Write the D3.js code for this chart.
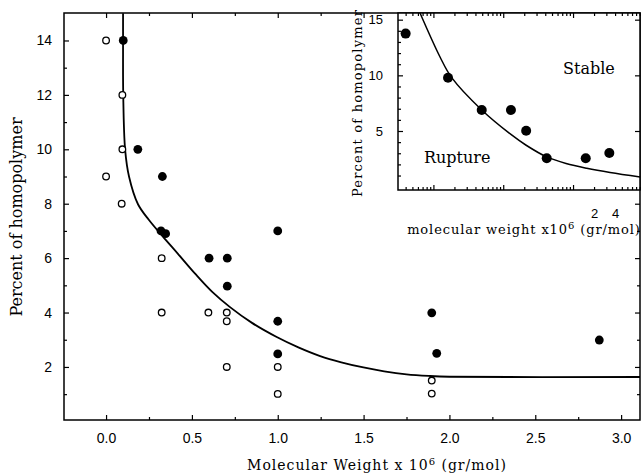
<!DOCTYPE html>
<html>
<head>
<meta charset="utf-8">
<script src="https://cdn.jsdelivr.net/npm/d3@7"></script>
<style>
body { margin: 0; background: #fff; }
svg { display: block; font-family: "DejaVu Serif", serif; }
.axis text { font-size: 14px; fill: #000; }
.axis line { stroke: #000; stroke-width: 1.2; }
.inset .axis text { font-size: 13px; }
</style>
</head>
<body>
<svg width="641" height="473"></svg>
<script>
// main plot, x = molecular weight (x10^6 gr/mol), y = percent of homopolymer
var stableMW  = [0.10, 0.185, 0.328, 0.32, 0.347, 1.0, 0.60, 0.706, 0.706, 1.0, 1.0, 1.897, 1.926, 2.873];
var stablePct = [14.0, 10.0, 9.0, 7.0, 6.9, 7.0, 6.0, 6.0, 4.97, 3.68, 2.48, 3.99, 2.50, 2.99];

var ruptureMW  = [0.0, 0.095, 0.095, 0.0, 0.091, 0.324, 0.324, 0.596, 0.703, 0.703, 0.703, 1.0, 1.0, 1.897, 1.897];
var rupturePct = [14.0, 12.0, 10.0, 9.0, 8.0, 6.0, 4.0, 4.0, 4.0, 3.68, 2.0, 2.0, 1.01, 1.5, 1.02];

// boundary line as drawn in the figure
var boundaryMW  = [0.099, 0.099, 0.100, 0.111, 0.134, 0.186, 0.25, 0.33, 0.42, 0.52, 0.62, 0.722, 0.85, 0.994, 1.12, 1.247, 1.37, 1.499, 1.62, 1.75, 1.88, 2.0, 3.11];
var boundaryPct = [15.0, 14.0, 12.0, 9.99, 8.99, 7.98, 7.4, 6.8, 6.15, 5.42, 4.75, 4.2, 3.62, 3.1, 2.72, 2.4, 2.17, 1.98, 1.84, 1.73, 1.67, 1.64, 1.63];

var xMajor = [0, 0.5, 1.0, 1.5, 2.0, 2.5, 3.0];
var xMinor = [0.25, 0.75, 1.25, 1.75, 2.25, 2.75];
var yMajor = [2, 4, 6, 8, 10, 12, 14];
var yMinor = [1, 3, 5, 7, 9, 11, 13];

// inset (log x)
var insetMW  = [0.0040, 0.0162, 0.0492, 0.129, 0.213, 0.42, 1.52, 3.31];
var insetPct = [13.75, 9.79, 6.89, 6.89, 5.03, 2.55, 2.55, 3.03];
var insetCurveMW  = [0.00643, 0.01244, 0.01829, 0.0492, 0.129, 0.213, 0.42, 0.794, 1.572, 3.39, 9.12];
var insetCurvePct = [15.6, 11.65, 9.79, 6.89, 4.69, 3.72, 2.67, 2.08, 1.65, 1.27, 0.87];
var insetYMajor = [5, 10, 15];
var insetXLabels = [2, 4];

var svg = d3.select("svg");

var x = d3.scaleLinear().domain([-0.245, 3.11]).range([64, 640]);
var y = d3.scaleLinear().domain([0.05, 15.01]).range([420, 13]);

var xi = d3.scaleLog().domain([0.00311, 9.1]).range([398, 640]);
var yi = d3.scaleLinear().domain([-0.3, 15.6]).range([190, 13]);

function noDomain(g) { g.select(".domain").remove(); }

// main frame
svg.append("rect")
    .attr("x", x.range()[0])
    .attr("y", y.range()[1])
    .attr("width", x.range()[1] - x.range()[0])
    .attr("height", y.range()[0] - y.range()[1])
    .attr("fill", "none")
    .attr("stroke", "#000")
    .attr("stroke-width", 1.5);

svg.append("g").attr("class", "axis")
    .attr("transform", "translate(" + x.range()[0] + ",0)")
    .call(d3.axisLeft(y).tickValues(yMajor).tickSize(-5).tickPadding(12).tickFormat(d3.format("d")))
    .call(noDomain);
svg.append("g").attr("class", "axis")
    .attr("transform", "translate(" + x.range()[0] + ",0)")
    .call(d3.axisLeft(y).tickValues(yMinor).tickSize(-3).tickFormat(""))
    .call(noDomain);

svg.append("g").attr("class", "axis")
    .attr("transform", "translate(" + x.range()[1] + ",0)")
    .call(d3.axisRight(y).tickValues([2, 4, 6, 8]).tickSize(-5).tickFormat(""))
    .call(noDomain);
svg.append("g").attr("class", "axis")
    .attr("transform", "translate(" + x.range()[1] + ",0)")
    .call(d3.axisRight(y).tickValues([1, 3, 5, 7]).tickSize(-3).tickFormat(""))
    .call(noDomain);

svg.append("g").attr("class", "axis")
    .attr("transform", "translate(0," + y.range()[0] + ")")
    .call(d3.axisBottom(x).tickValues(xMajor).tickSize(-5).tickPadding(13).tickFormat(d3.format(".1f")))
    .call(noDomain);
svg.append("g").attr("class", "axis")
    .attr("transform", "translate(0," + y.range()[0] + ")")
    .call(d3.axisBottom(x).tickValues(xMinor).tickSize(-3).tickFormat(""))
    .call(noDomain);

svg.append("g").attr("class", "axis")
    .attr("transform", "translate(0," + y.range()[1] + ")")
    .call(d3.axisTop(x).tickValues(xMajor.filter(d => d < 1.7)).tickSize(-5).tickFormat(""))
    .call(noDomain);
svg.append("g").attr("class", "axis")
    .attr("transform", "translate(0," + y.range()[1] + ")")
    .call(d3.axisTop(x).tickValues(xMinor.filter(d => d < 1.7)).tickSize(-3).tickFormat(""))
    .call(noDomain);

var line = d3.line()
    .x(d => x(d[0]))
    .y(d => y(d[1]))
    .curve(d3.curveCatmullRom.alpha(0.5));

svg.append("path")
    .datum(d3.zip(boundaryMW, boundaryPct))
    .attr("d", line)
    .attr("fill", "none")
    .attr("stroke", "#000")
    .attr("stroke-width", 1.8);

svg.append("g").selectAll("circle")
    .data(d3.zip(ruptureMW, rupturePct))
    .join("circle")
    .attr("cx", d => x(d[0]))
    .attr("cy", d => y(d[1]))
    .attr("r", 3.3)
    .attr("fill", "#fff")
    .attr("stroke", "#000")
    .attr("stroke-width", 1.3);

svg.append("g").selectAll("circle")
    .data(d3.zip(stableMW, stablePct))
    .join("circle")
    .attr("cx", d => x(d[0]))
    .attr("cy", d => y(d[1]))
    .attr("r", 4.4)
    .attr("fill", "#000");

var xLabel = svg.append("text")
    .attr("x", 377)
    .attr("y", 470)
    .attr("text-anchor", "middle")
    .style("font-size", "14px")
    .style("letter-spacing", "1px")
    .text("Molecular Weight x 10");
xLabel.append("tspan").attr("dy", -5).style("font-size", "10px").text("6");
xLabel.append("tspan").attr("dy", 5).text(" (gr/mol)");

svg.append("text")
    .attr("transform", "translate(22,217) rotate(-90)")
    .attr("text-anchor", "middle")
    .style("font-size", "16px")
    .text("Percent of homopolymer");

// inset
var inset = svg.append("g").attr("class", "inset");

inset.append("rect")
    .attr("x", xi.range()[0])
    .attr("y", yi.range()[1])
    .attr("width", xi.range()[1] - xi.range()[0])
    .attr("height", yi.range()[0] - yi.range()[1])
    .attr("fill", "#fff")
    .attr("stroke", "#000")
    .attr("stroke-width", 1.5);

var logTicks = xi.ticks();
var decades = logTicks.filter(d => Math.abs(Math.log10(d) - Math.round(Math.log10(d))) < 1e-9);
var logMinor = logTicks.filter(d => decades.indexOf(d) < 0);

inset.append("g").attr("class", "axis")
    .attr("transform", "translate(" + xi.range()[0] + ",0)")
    .call(d3.axisLeft(yi).tickValues(insetYMajor).tickSize(-5).tickPadding(15).tickFormat(d3.format("d")))
    .call(noDomain);
inset.append("g").attr("class", "axis")
    .attr("transform", "translate(" + xi.range()[0] + ",0)")
    .call(d3.axisLeft(yi).tickValues(d3.range(0, 16).filter(d => d % 5)).tickSize(-3).tickFormat(""))
    .call(noDomain);
inset.append("g").attr("class", "axis")
    .attr("transform", "translate(" + xi.range()[1] + ",0)")
    .call(d3.axisRight(yi).tickValues(insetYMajor).tickSize(-5).tickFormat(""))
    .call(noDomain);

inset.append("g").attr("class", "axis")
    .attr("transform", "translate(0," + yi.range()[0] + ")")
    .call(d3.axisBottom(xi).tickValues(logMinor).tickSize(-3).tickPadding(19)
        .tickFormat(d => insetXLabels.indexOf(d) >= 0 ? d : ""))
    .call(noDomain);
inset.append("g").attr("class", "axis")
    .attr("transform", "translate(0," + yi.range()[0] + ")")
    .call(d3.axisBottom(xi).tickValues(decades).tickSize(-5).tickFormat(""))
    .call(noDomain);
inset.append("g").attr("class", "axis")
    .attr("transform", "translate(0," + yi.range()[1] + ")")
    .call(d3.axisTop(xi).tickValues(logMinor).tickSize(-3).tickFormat(""))
    .call(noDomain);
inset.append("g").attr("class", "axis")
    .attr("transform", "translate(0," + yi.range()[1] + ")")
    .call(d3.axisTop(xi).tickValues(decades).tickSize(-5).tickFormat(""))
    .call(noDomain);

var insetLine = d3.line()
    .x(d => xi(d[0]))
    .y(d => yi(d[1]))
    .curve(d3.curveCatmullRom.alpha(0.5));

inset.append("path")
    .datum(d3.zip(insetCurveMW, insetCurvePct))
    .attr("d", insetLine)
    .attr("fill", "none")
    .attr("stroke", "#000")
    .attr("stroke-width", 1.5);

inset.append("g").selectAll("circle")
    .data(d3.zip(insetMW, insetPct))
    .join("circle")
    .attr("cx", d => xi(d[0]))
    .attr("cy", d => yi(d[1]))
    .attr("r", 5)
    .attr("fill", "#000");

inset.append("text")
    .attr("x", 563).attr("y", 74)
    .style("font-size", "16px")
    .text("Stable");
inset.append("text")
    .attr("x", 424).attr("y", 163)
    .style("font-size", "16px")
    .text("Rupture");

var ixLabel = inset.append("text")
    .attr("x", 524)
    .attr("y", 234)
    .attr("text-anchor", "middle")
    .style("font-size", "13px")
    .style("letter-spacing", "0.9px")
    .text("molecular weight x10");
ixLabel.append("tspan").attr("dy", -5).style("font-size", "10px").text("6");
ixLabel.append("tspan").attr("dy", 5).text(" (gr/mol)");

inset.append("text")
    .attr("transform", "translate(362,103) rotate(-90)")
    .attr("text-anchor", "middle")
    .style("font-size", "13px")
    .style("letter-spacing", "1.2px")
    .text("Percent of homopolymer");
</script>
</body>
</html>
